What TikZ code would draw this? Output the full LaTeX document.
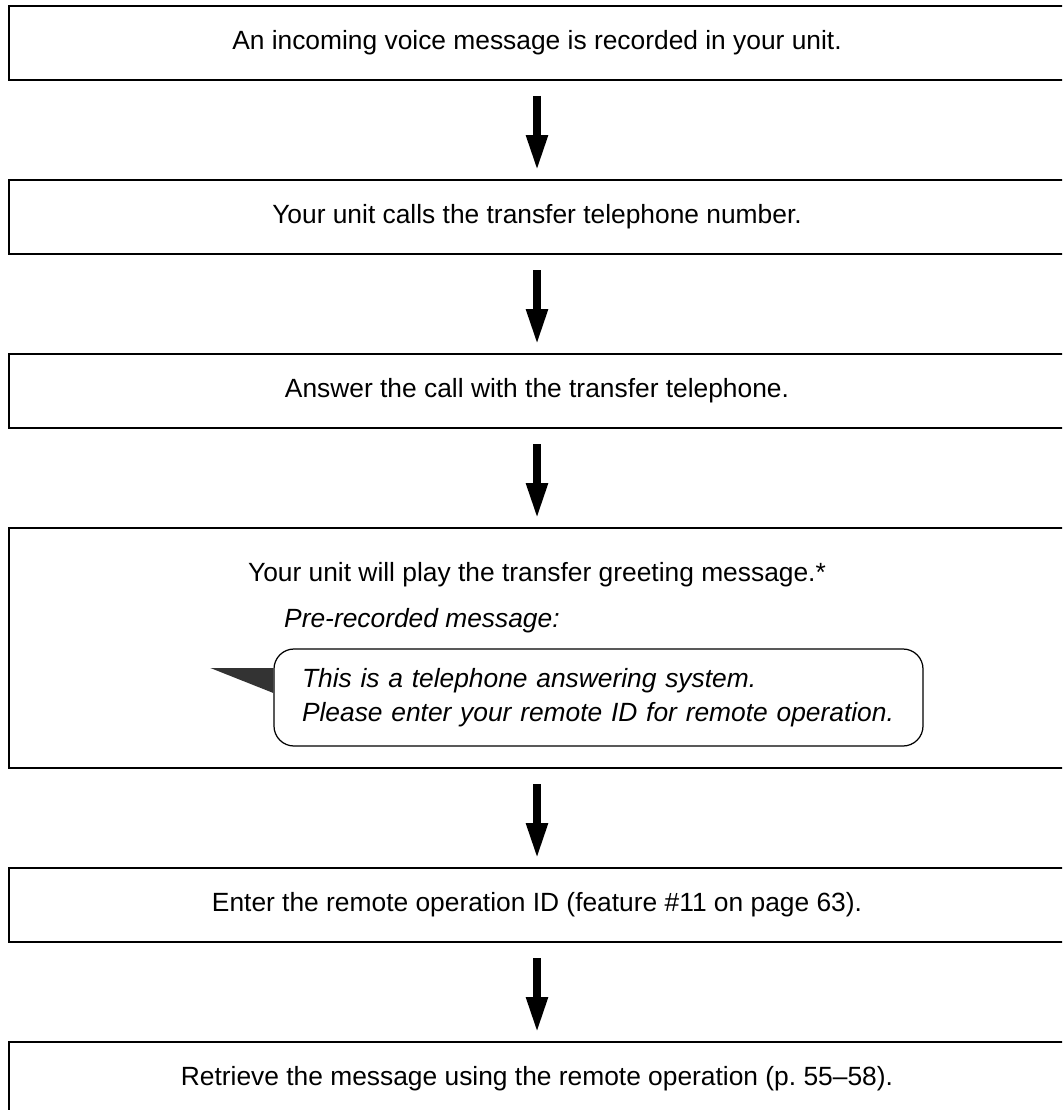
\documentclass[tikz,border=0pt]{standalone}
\usepackage{fontspec}
\setmainfont{Liberation Sans}
\usetikzlibrary{positioning,arrows.meta}
\begin{document}
\begin{tikzpicture}[font=\fontsize{15pt}{19.4pt}\selectfont, >={Triangle[length=7.2mm,width=4mm]},
    stepbox/.style={draw, line width=0.9pt, rectangle, outer sep=0pt, minimum width=21.12cm, minimum height=1.48cm},
    flow/.style={->, line width=0.16cm, shorten <=0.32cm, shorten >=0.18cm},
    quote/.style={font=\fontsize{15pt}{19.4pt}\selectfont\itshape},
    bubble/.style={quote, draw, line width=0.7pt, rounded corners=0.4cm, text width=11.86cm, inner xsep=0.56cm, minimum height=1.94cm, align=left}]
  \useasboundingbox (0,0) rectangle (21.24,-22.2);
  \clip (0,0) rectangle (21.24,-22.2);
  \node[stepbox] (recv) at (10.74,-0.86) {An incoming voice message is recorded in your unit.};
  \node[stepbox, below=2cm of recv] (call) {Your unit calls the transfer telephone number.};
  \node[stepbox, below=2cm of call] (answer) {Answer the call with the transfer telephone.};
  \node[stepbox, minimum height=4.8cm, below=2cm of answer] (greet) {};
  \node[stepbox, below=2cm of greet] (enter) {Enter the remote operation ID (feature \#11 on page 63).};
  \node[stepbox, below=2cm of enter] (retrieve) {Retrieve the message using the remote operation (p.~55--58).};
  \node[anchor=base] (greettext) at ([yshift=-1.074cm]greet.north) {Your unit will play the transfer greeting message.*};
  \node[quote, anchor=base west] (prerec) at ([xshift=5.38cm, yshift=-1.98cm]greet.north west) {Pre-recorded message:};
  \node[bubble] (bubble) at ([xshift=11.79cm, yshift=-3.39cm]greet.north west) {This is a telephone answering system.\\ Please enter your remote ID for remote operation.};
  \fill[black!80] ([xshift=-1.26cm, yshift=0.59cm]bubble.west) -- ([yshift=0.59cm]bubble.west) -- ([yshift=0.09cm]bubble.west) -- cycle;
  \foreach \a/\b in {recv/call, call/answer, answer/greet, greet/enter, enter/retrieve}
    \draw[flow] (\a) -- (\b);
\end{tikzpicture}
\end{document}
